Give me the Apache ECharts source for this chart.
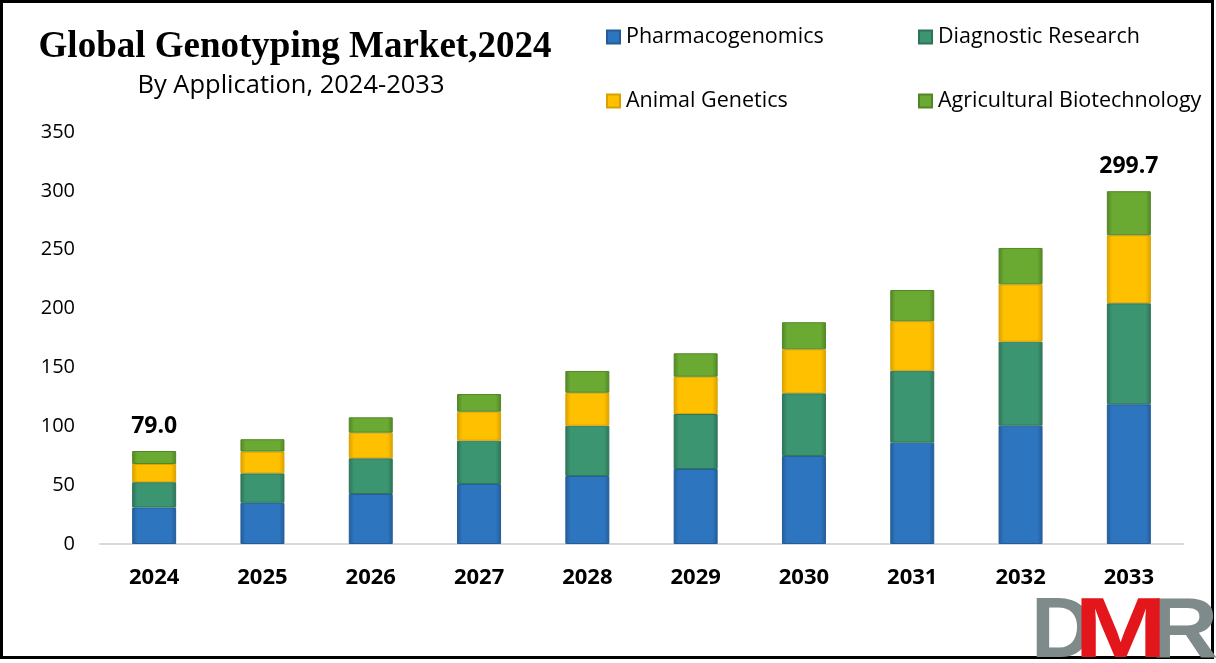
<!DOCTYPE html>
<html>
<head>
<meta charset="utf-8">
<script src="https://cdn.jsdelivr.net/npm/echarts@6/dist/echarts.min.js"></script>
<style>html,body{margin:0;padding:0;background:#fff}#c{width:1216px;height:663px}</style>
</head>
<body>
<div id="c"></div>
<script>
const years = ['2024','2025','2026','2027','2028','2029','2030','2031','2032','2033'];
const pharmacogenomics = [31.0, 35.0, 42.5, 51.0, 57.8, 63.7, 74.8, 86.1, 100.5, 118.7];
const diagnosticResearch = [21.5, 25.0, 30.3, 36.8, 42.7, 46.7, 53.2, 61.1, 71.4, 85.8];
const animalGenetics = [15.5, 18.5, 21.8, 24.6, 28.0, 31.7, 37.4, 42.0, 48.7, 57.8];
const agriculturalBiotech = [11.0, 10.5, 13.0, 15.0, 18.5, 19.9, 23.0, 26.6, 30.9, 37.4];
const totals = [79.0, 89.0, 107.6, 127.4, 147.0, 162.0, 188.4, 215.8, 251.5, 299.7];
const labeledIdx = [0, 9];
const yTicks = [0, 350, 50];

const font = "'Open Sans', 'Noto Sans', sans-serif";
const chart = echarts.init(document.getElementById('c'), null, {renderer: 'canvas'});

function grad(c1, c2) {
  return new echarts.graphic.LinearGradient(0, 0, 1, 0, [
    {offset: 0, color: c2}, {offset: 0.12, color: c1}, {offset: 0.88, color: c1}, {offset: 1, color: c2}
  ]);
}
const seriesDefs = [
  {name: 'Pharmacogenomics', data: pharmacogenomics, c: '#2E75C0', d: '#245C98', legend: '#2E75C0'},
  {name: 'Diagnostic Research', data: diagnosticResearch, c: '#3C9571', d: '#2D7358', legend: '#3C9571'},
  {name: 'Animal Genetics', data: animalGenetics, c: '#FFC000', d: '#D9A000', legend: '#FFC000'},
  {name: 'Agricultural Biotechnology', data: agriculturalBiotech, c: '#6AAA32', d: '#528526', legend: '#6AAA32'}
];

const series = seriesDefs.map((s, si) => ({
  name: s.name,
  type: 'bar',
  stack: 'total',
  barWidth: 44,
  itemStyle: {color: grad(s.c, s.d), borderColor: s.d, borderWidth: 1},
  data: s.data.map((v, i) => {
    const item = {value: v};
    if (si === 3 && labeledIdx.includes(i)) {
      item.label = {
        show: true, position: 'top', distance: 13,
        formatter: () => totals[i].toFixed(1),
        fontFamily: font, fontWeight: 'bold', fontSize: 23, color: '#000'
      };
    }
    return item;
  })
}));

const legendText = {fontFamily: font, fontSize: 21.5, color: '#000', padding: [0, 0, 0, 1]};
chart.setOption({
  animation: false,
  backgroundColor: '#fff',
  color: seriesDefs.map(s => s.legend),
  title: [
    {text: 'Global Genotyping Market,2024', left: 290, top: 24, textAlign: 'center',
     textStyle: {fontFamily: "'Liberation Serif', 'DejaVu Serif', serif", fontWeight: 'bold', fontSize: 37, color: '#000'}},
    {text: 'By Application, 2024-2033', left: 286, top: 68, textAlign: 'center',
     textStyle: {fontFamily: font, fontWeight: 'normal', fontSize: 25.5, color: '#000'}}
  ],
  legend: [
    {data: ['Pharmacogenomics', 'Animal Genetics'], orient: 'vertical', left: 601, top: 21, itemGap: 42,
     itemWidth: 13, itemHeight: 13, icon: 'rect', textStyle: legendText},
    {data: ['Diagnostic Research', 'Agricultural Biotechnology'], orient: 'vertical', left: 913, top: 21, itemGap: 42,
     itemWidth: 13, itemHeight: 13, icon: 'rect', textStyle: legendText}
  ],
  grid: {left: 100, right: 33, top: 132, bottom: 119, containLabel: false},
  xAxis: {
    type: 'category', data: years,
    axisLine: {show: true, lineStyle: {color: '#D9D9D9', width: 2}},
    axisTick: {show: false},
    axisLabel: {fontFamily: font, fontWeight: 'bold', fontSize: 22, color: '#000', margin: 23}
  },
  yAxis: {
    type: 'value', min: yTicks[0], max: yTicks[1], interval: yTicks[2],
    axisLine: {show: false}, axisTick: {show: false}, splitLine: {show: false},
    axisLabel: {fontFamily: font, fontSize: 20, color: '#000', margin: 25}
  },
  series: series,
  graphic: [
    {type: 'rect', z: 10, silent: true, shape: {x: 1.5, y: 1.5, width: 1211, height: 656},
     style: {fill: 'none', stroke: '#000', lineWidth: 3}},
    {type: 'text', z: 11, left: 1031, top: 590, style: {text: 'D', fill: '#7F8A8A', font: "bold 86px 'Liberation Sans', sans-serif"}},
    {type: 'text', z: 12, x: 1074, y: 590, scaleX: 1.3, style: {text: 'M', fill: '#E3161B', font: "bold 86px 'Liberation Sans', sans-serif"}},
    {type: 'text', z: 11, x: 1150, y: 590, scaleX: 1.1, style: {text: 'R', fill: '#7F8A8A', font: "bold 86px 'Liberation Sans', sans-serif"}}
  ]
});
</script>
</body>
</html>
